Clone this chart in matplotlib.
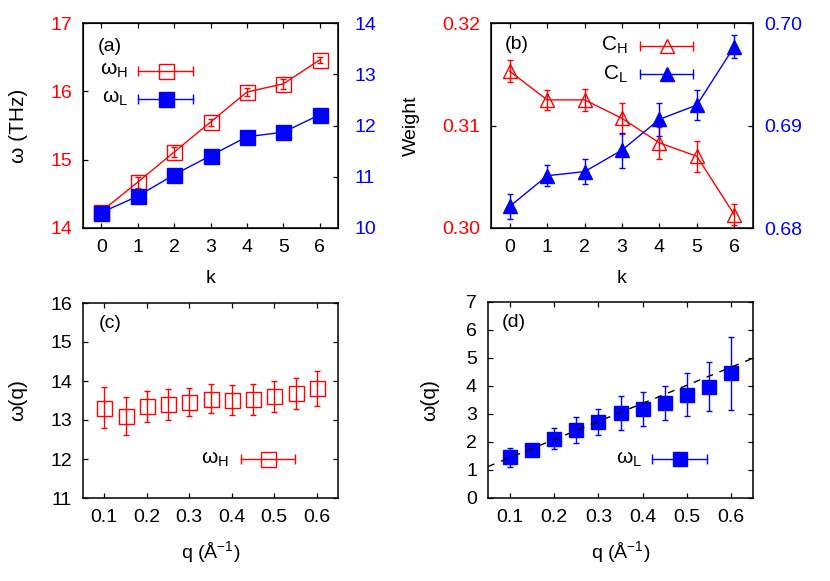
import matplotlib
matplotlib.use("Agg")
import matplotlib.pyplot as plt
import numpy as np

plt.rcParams['font.family'] = ['Liberation Sans', 'DejaVu Sans']
plt.rcParams['mathtext.fontset'] = 'custom'
plt.rcParams['mathtext.rm'] = 'Liberation Sans'
plt.rcParams['mathtext.it'] = 'Liberation Sans'
plt.rcParams['mathtext.bf'] = 'Liberation Sans'
plt.rcParams['mathtext.default'] = 'regular'
plt.rcParams['font.size'] = 14

RED = '#ff0000'
BLUE = '#0000ff'

# ---------------- data ----------------
k = [0, 1, 2, 3, 4, 5, 6]
omega_H = [14.24, 14.67, 15.11, 15.55, 15.99, 16.11, 16.46]
omega_H_err = [0.03, 0.08, 0.07, 0.05, 0.06, 0.07, 0.04]
omega_L = [10.30, 10.62, 11.04, 11.41, 11.78, 11.87, 12.21]
omega_L_err = [0.05, 0.05, 0.05, 0.05, 0.05, 0.05, 0.05]

C_H = [0.3153, 0.3125, 0.3125, 0.3107, 0.3083, 0.3070, 0.3013]
C_H_err = [0.0011, 0.0010, 0.0011, 0.0015, 0.0016, 0.0015, 0.0010]
C_L = [0.6821, 0.6851, 0.6855, 0.6876, 0.6906, 0.6920, 0.6977]
C_L_err = [0.0012, 0.0010, 0.0012, 0.0017, 0.0016, 0.0015, 0.0011]

q = [0.10, 0.15, 0.20, 0.25, 0.30, 0.35, 0.40, 0.45, 0.50, 0.55, 0.60]
omega_H_q = [13.32, 13.10, 13.35, 13.40, 13.46, 13.55, 13.51, 13.53, 13.61, 13.68, 13.81]
omega_H_q_err = [0.53, 0.48, 0.40, 0.39, 0.37, 0.37, 0.39, 0.39, 0.40, 0.40, 0.45]
omega_L_q = [1.45, 1.71, 2.12, 2.43, 2.71, 3.05, 3.17, 3.38, 3.69, 3.98, 4.46]
omega_L_q_err = [0.33, 0.15, 0.37, 0.45, 0.47, 0.61, 0.60, 0.61, 0.77, 0.89, 1.30]
fit_slope = 6.45
fit_intercept = 0.80

k_ticks = [0, 1, 2, 3, 4, 5, 6]
q_ticks = [0.1, 0.2, 0.3, 0.4, 0.5, 0.6]

# ---------------- figure ----------------
W, H = 830, 581
fig = plt.figure(figsize=(W / 100, H / 100), dpi=100)


def rect(x0, y0, x1, y1):
    return [x0 / W, 1 - y1 / H, (x1 - x0) / W, (y1 - y0) / H]


TL = 3.6


def style_ax(ax, mirror_y=True):
    for s in ax.spines.values():
        s.set_linewidth(1.1)
    ax.tick_params(direction='in', length=TL, width=0.9, top=True,
                   right=mirror_y, labelsize=14, pad=8)


def legend_entry(ax, x0, x1, xm, y, label, color, marker, mfc, ms, tx):
    tr = ax.transAxes
    ax.plot([x0, x1], [y, y], color=color, lw=1.0, transform=tr, clip_on=False, zorder=6)
    ax.plot([x0, x1], [y, y], ls='none', marker='|', ms=7, mew=1.0, color=color,
            transform=tr, clip_on=False, zorder=6)
    ax.plot([xm], [y], ls='none', marker=marker, ms=ms, mfc=mfc, mec=color, mew=1.0,
            transform=tr, clip_on=False, zorder=7)
    ax.text(tx, y, label, transform=tr, ha='right', va='center', fontsize=15)


# ---- (a) ----
axa = fig.add_axes(rect(83, 23, 338, 228))
style_ax(axa, mirror_y=False)
axa.errorbar(k, omega_H, yerr=omega_H_err, color=RED, lw=1.0, marker='s', ms=10.8,
             mfc='none', mec=RED, mew=1.0, capsize=2.5, elinewidth=1.0, zorder=3)
axa.set_xlim(-0.5, 6.5)
axa.set_ylim(14, 17)
axa.set_yticks([14, 15, 16, 17])
axa.set_xticks(k_ticks)
axa.tick_params(axis='y', colors='black', labelcolor=RED)
axa.set_xlabel('k', fontsize=14)
axa.xaxis.set_label_coords(0.5, -0.205)
axa.set_ylabel('ω (THz)', fontsize=15)
axa.yaxis.set_label_coords(-0.216, 0.5)
axa2 = axa.twinx()
axa2.errorbar(k, omega_L, yerr=omega_L_err, color=BLUE, lw=1.0, marker='s', ms=10.8,
              mfc=BLUE, mec=BLUE, mew=1.0, capsize=2.5, elinewidth=1.0, zorder=3)
axa2.set_ylim(10, 14)
axa2.set_yticks([10, 11, 12, 13, 14])
axa2.tick_params(direction='in', length=TL, width=0.9, labelsize=14, pad=12,
                 colors='black', labelcolor=BLUE)
axa.text(0.057, 0.884, '(a)', transform=axa.transAxes, ha='left', va='center', fontsize=14)
legend_entry(axa, 0.216, 0.431, 0.325, 0.767, r'$ω_H$', RED, 's', 'none', 10.8, 0.176)
legend_entry(axa, 0.216, 0.431, 0.325, 0.631, r'$ω_L$', BLUE, 's', BLUE, 10.8, 0.176)

# ---- (b) ----
axb = fig.add_axes(rect(491, 23, 753, 228))
style_ax(axb, mirror_y=False)
axb.errorbar(k, C_H, yerr=C_H_err, color=RED, lw=1.0, marker='^', ms=10,
             mfc='none', mec=RED, mew=1.0, capsize=2.5, elinewidth=1.0, zorder=3)
axb.set_xlim(-0.5, 6.5)
axb.set_ylim(0.30, 0.32)
axb.set_yticks([0.30, 0.31, 0.32])
axb.set_yticklabels(['0.30', '0.31', '0.32'])
axb.set_xticks(k_ticks)
axb.tick_params(axis='y', labelcolor=RED)
axb.set_xlabel('k', fontsize=14)
axb.xaxis.set_label_coords(0.5, -0.205)
axb.set_ylabel('Weight', fontsize=14)
axb.yaxis.set_label_coords(-0.271, 0.5)
axb2 = axb.twinx()
axb2.errorbar(k, C_L, yerr=C_L_err, color=BLUE, lw=1.0, marker='^', ms=10,
              mfc=BLUE, mec=BLUE, mew=1.0, capsize=2.5, elinewidth=1.0, zorder=3)
axb2.set_ylim(0.68, 0.70)
axb2.set_yticks([0.68, 0.69, 0.70])
axb2.set_yticklabels(['0.68', '0.69', '0.70'])
axb2.tick_params(direction='in', length=TL, width=0.9, labelsize=14, pad=8,
                 colors='black', labelcolor=BLUE)
axb.text(0.053, 0.893, '(b)', transform=axb.transAxes, ha='left', va='center', fontsize=14)
legend_entry(axb, 0.569, 0.771, 0.672, 0.889, r'$C_H$', RED, '^', 'none', 10, 0.523)
legend_entry(axb, 0.569, 0.771, 0.672, 0.751, r'$C_L$', BLUE, '^', BLUE, 10, 0.523)

# ---- (c) ----
axc = fig.add_axes(rect(83, 303, 338, 498))
style_ax(axc)
axc.errorbar(q, omega_H_q, yerr=omega_H_q_err, ls='none', color=RED, marker='s', ms=10.8,
             mfc='none', mec=RED, mew=1.0, capsize=2.5, elinewidth=1.0, zorder=3)
axc.set_xlim(0.05, 0.65)
axc.set_ylim(11, 16)
axc.set_xticks(q_ticks)
axc.set_yticks([11, 12, 13, 14, 15, 16])
axc.set_xlabel(r'q (Å$^{-1}$)', fontsize=14)
axc.xaxis.set_label_coords(0.5, -0.21)
axc.set_ylabel('ω(q)', fontsize=15)
axc.yaxis.set_label_coords(-0.22, 0.5)
axc.text(0.06, 0.896, '(c)', transform=axc.transAxes, ha='left', va='center', fontsize=14)
legend_entry(axc, 0.618, 0.831, 0.727, 0.198, r'$ω_H$', RED, 's', 'none', 10.8, 0.573)

# ---- (d) ----
axd = fig.add_axes(rect(488, 302, 753, 498))
style_ax(axd)
axd.errorbar(q, omega_L_q, yerr=omega_L_q_err, ls='none', color=BLUE, marker='s', ms=10.3,
             mfc=BLUE, mec=BLUE, mew=1.0, capsize=2.5, elinewidth=1.0, zorder=3)
axd.set_xlim(0.05, 0.65)
axd.set_ylim(0, 7)
qq = np.array(axd.get_xlim())
axd.plot(qq, fit_slope * qq + fit_intercept, color='black', lw=1.0, dashes=(5, 5), zorder=5)
axd.set_xticks(q_ticks)
axd.set_yticks([0, 1, 2, 3, 4, 5, 6, 7])
axd.set_xlabel(r'q (Å$^{-1}$)', fontsize=14)
axd.xaxis.set_label_coords(0.5, -0.21)
axd.set_ylabel('ω(q)', fontsize=15)
axd.yaxis.set_label_coords(-0.185, 0.5)
axd.text(0.053, 0.893, '(d)', transform=axd.transAxes, ha='left', va='center', fontsize=14)
legend_entry(axd, 0.62, 0.826, 0.725, 0.197, r'$ω_L$', BLUE, 's', BLUE, 10.3, 0.58)

fig.savefig('out.png', dpi=100)
